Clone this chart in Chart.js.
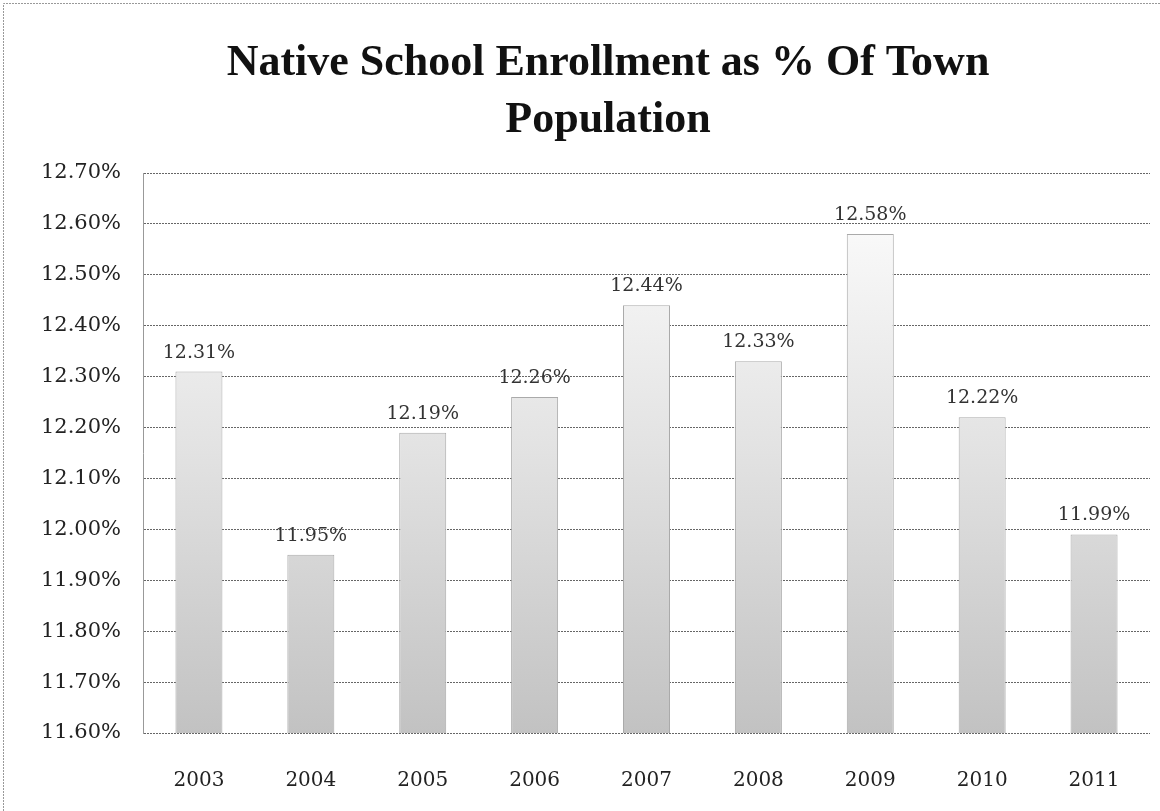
<!DOCTYPE html>
<html>
<head>
<meta charset="utf-8">
<script src="https://cdn.jsdelivr.net/npm/chart.js@4"></script>
<style>
  html, body { margin: 0; padding: 0; background: #fff; }
  #wrap { width: 1160px; height: 811px; position: relative; }
</style>
</head>
<body>
<div id="wrap"><canvas id="myChart" width="1160" height="811"></canvas></div>
<script>
// Data for the chart
const years = ['2003', '2004', '2005', '2006', '2007', '2008', '2009', '2010', '2011'];
const enrollmentPct = [12.31, 11.95, 12.19, 12.26, 12.44, 12.33, 12.58, 12.22, 11.99];
const titleLines = ['Native School Enrollment as % Of Town', 'Population'];
const axisMin = 11.6;
const axisMax = 12.7;
const axisStep = 0.1;

const serif = '"DejaVu Serif", "Liberation Serif", serif';

// Gradient fill for the bars (grey at bottom, white at top)
function barFill(context) {
    const chart = context.chart;
    const area = chart.chartArea;
    if (!area) return '#dddddd';
    const g = chart.ctx.createLinearGradient(0, area.bottom, 0, area.top);
    g.addColorStop(0, '#c2c2c2');
    g.addColorStop(0.5, '#e2e2e2');
    g.addColorStop(1, '#ffffff');
    return g;
}

// Value labels above each bar
const valueLabels = {
    id: 'valueLabels',
    afterDatasetsDraw(chart) {
        const ctx = chart.ctx;
        const meta = chart.getDatasetMeta(0);
        ctx.save();
        ctx.font = '19px ' + serif;
        ctx.fillStyle = '#333333';
        ctx.textAlign = 'center';
        ctx.textBaseline = 'alphabetic';
        meta.data.forEach((bar, i) => {
            ctx.fillText(enrollmentPct[i].toFixed(2) + '%', bar.x, bar.y - 14);
        });
        ctx.restore();
    }
};

// Page frame and the two-line title
const frameAndTitle = {
    id: 'frameAndTitle',
    beforeDraw(chart) {
        const ctx = chart.ctx;
        ctx.save();
        ctx.fillStyle = '#ffffff';
        ctx.fillRect(0, 0, chart.width, chart.height);
        ctx.strokeStyle = '#999999';
        ctx.setLineDash([2, 1]);
        ctx.lineWidth = 1;
        ctx.beginPath();
        ctx.moveTo(3.5, chart.height);
        ctx.lineTo(3.5, 3.5);
        ctx.lineTo(chart.width, 3.5);
        ctx.stroke();
        ctx.setLineDash([]);

        ctx.fillStyle = '#111111';
        ctx.font = 'bold 44px "Liberation Serif", serif';
        ctx.textAlign = 'center';
        ctx.textBaseline = 'alphabetic';
        ctx.fillText(titleLines[0], 608, 75);
        ctx.fillText(titleLines[1], 608, 132);
        ctx.restore();
    }
};

const config = {
    type: 'bar',
    data: {
        labels: years,
        datasets: [{
            data: enrollmentPct,
            backgroundColor: barFill,
            borderColor: '#aaaaaa',
            borderWidth: 1,
            barPercentage: 0.6,
            categoryPercentage: 0.7
        }]
    },
    options: {
        responsive: false,
        animation: false,
        layout: { padding: { top: 173, left: 0, right: 10, bottom: 0 } },
        plugins: {
            legend: { display: false },
            tooltip: { enabled: false },
            title: { display: false }
        },
        scales: {
            x: {
                grid: { display: false },
                border: { display: false },
                afterFit(scale) { scale.height = 78; },
                ticks: {
                    color: '#222222',
                    padding: 28,
                    font: { family: serif, size: 20 }
                }
            },
            y: {
                min: axisMin,
                max: axisMax,
                afterFit(scale) { scale.width = 143; },
                grid: { color: '#666666', lineWidth: 1, drawTicks: false },
                border: { display: true, color: '#999999', dash: [2, 1] },
                ticks: {
                    stepSize: axisStep,
                    color: '#222222',
                    padding: 22,
                    font: { family: serif, size: 21 },
                    callback: (v) => v.toFixed(2) + '%'
                }
            }
        }
    },
    plugins: [frameAndTitle, valueLabels]
};

const myChart = new Chart(document.getElementById('myChart'), config);
</script>
</body>
</html>
